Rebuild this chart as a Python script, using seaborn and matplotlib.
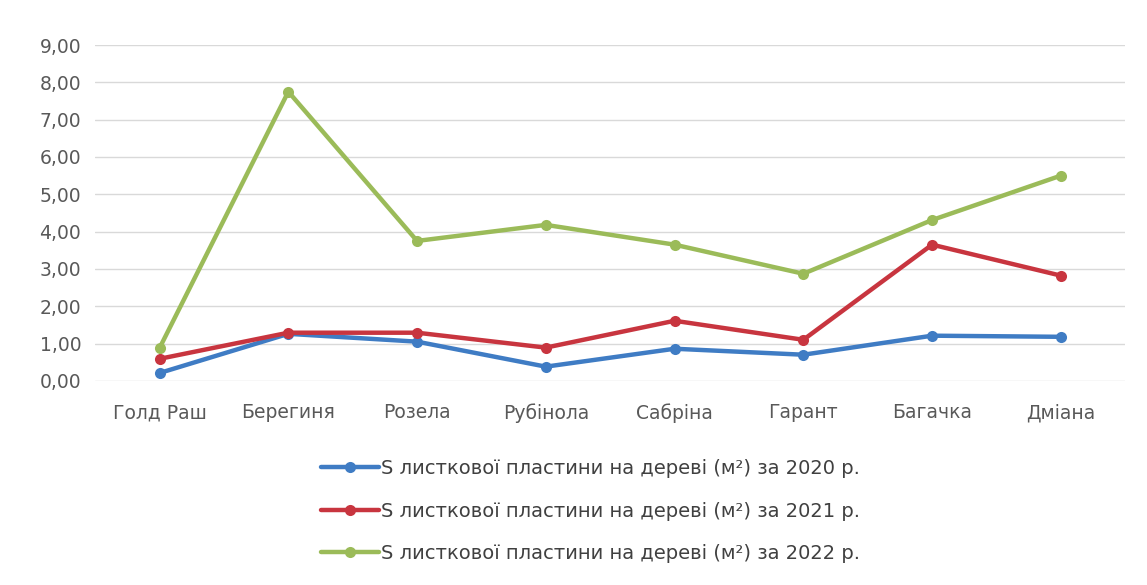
import matplotlib
matplotlib.use("Agg")
import matplotlib.pyplot as plt
import seaborn as sns
import pandas as pd

categories = ["Голд Раш", "Берегиня", "Розела", "Рубінола", "Сабріна", "Гарант", "Багачка", "Дміана"]
s2020 = [0.21, 1.26, 1.05, 0.38, 0.86, 0.70, 1.21, 1.18]
s2021 = [0.59, 1.29, 1.29, 0.89, 1.61, 1.10, 3.65, 2.82]
s2022 = [0.88, 7.75, 3.75, 4.18, 3.65, 2.87, 4.31, 5.50]
series_names = [
    "S листкової пластини на дереві (м²) за 2020 р.",
    "S листкової пластини на дереві (м²) за 2021 р.",
    "S листкової пластини на дереві (м²) за 2022 р.",
]
yticks = [0, 1, 2, 3, 4, 5, 6, 7, 8, 9]
colors = ["#3F7CC4", "#C8353F", "#9BBB59"]

rows = []
for name, vals in zip(series_names, [s2020, s2021, s2022]):
    for i, (c, v) in enumerate(zip(categories, vals)):
        rows.append({"pos": i, "cat": c, "value": v, "series": name})
df = pd.DataFrame(rows)

sns.set_theme(style="white")
plt.rcParams["font.family"] = ["DejaVu Sans"]

fig = plt.figure(figsize=(11.47, 5.85), dpi=100)
ax = fig.add_axes([0.083, 0.349, 0.898, 0.574])

sns.lineplot(data=df, x="pos", y="value", hue="series", palette=colors,
             marker="o", markersize=8, markeredgewidth=0, linewidth=3.2,
             ax=ax, legend=True)

fs = 13.5
ax.set_xlim(-0.5, 7.5)
ax.set_ylim(0, 9)
ax.set_xticks(range(len(categories)))
ax.set_xticklabels(categories, fontsize=fs, color="#595959")
ax.set_yticks(yticks)
ax.set_yticklabels([f"{t:.2f}".replace(".", ",") for t in yticks], fontsize=fs, color="#595959")
ax.tick_params(axis="both", length=0)
ax.tick_params(axis="x", pad=16)
ax.tick_params(axis="y", pad=10)
ax.grid(axis="y", color="#D9D9D9", linewidth=1)
ax.set_axisbelow(True)
for s in ax.spines.values():
    s.set_visible(False)
ax.set_xlabel("")
ax.set_ylabel("")

handles, labels = ax.get_legend_handles_labels()
ax.get_legend().remove()
fig.legend(handles, labels, loc="upper center", bbox_to_anchor=(0.515, 0.245),
           ncol=1, frameon=False, fontsize=14, labelspacing=1.2,
           handlelength=3.0, handletextpad=0.1, labelcolor="#404040")

fig.savefig("out.png", dpi=100, facecolor="white")
